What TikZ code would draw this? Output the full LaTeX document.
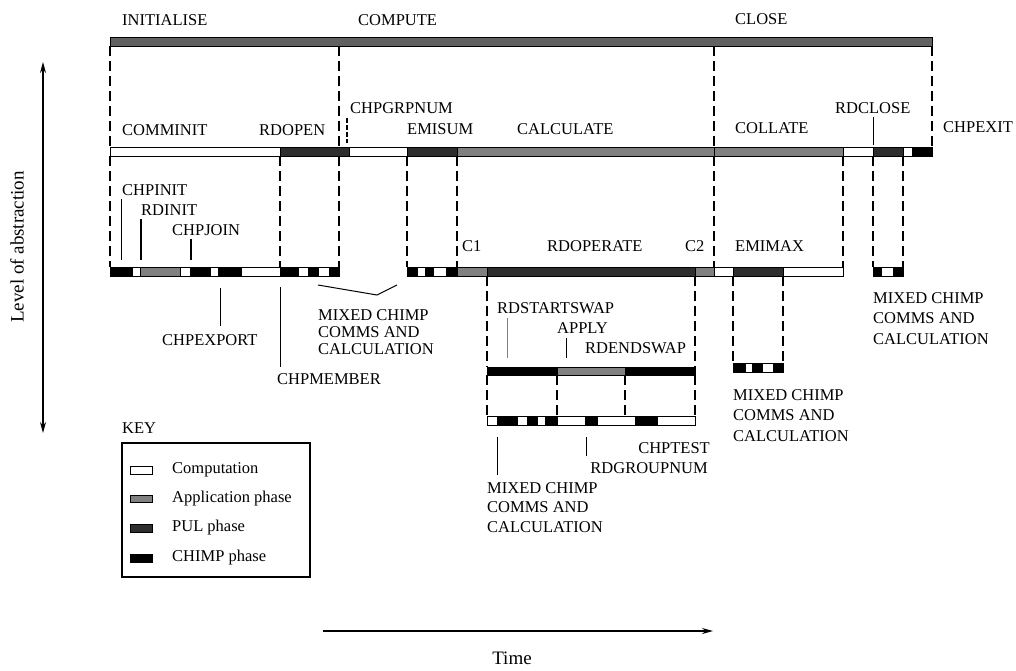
\documentclass[tikz,border=0pt]{standalone}
\usepackage{fontspec}
\setmainfont{Liberation Serif}
\usetikzlibrary{arrows.meta}
\tikzset{
  comp/.style={draw=black, line width=0.8pt, fill=white},
  appl/.style={draw=black, line width=0.8pt, fill=black!50},
  pul/.style={draw=black, line width=0.8pt, fill=black!82},
  chimp/.style={draw=black, line width=0.8pt, fill=black},
  dsh/.style={line width=2.6pt, dash pattern=on 10pt off 5pt},
  lbl/.style={font=\fontsize{16.5}{18}\selectfont, anchor=base west, inner sep=0pt},
  lblr/.style={font=\fontsize{16.5}{18}\selectfont, anchor=base east, inner sep=0pt},
  axlbl/.style={font=\fontsize{19}{21}\selectfont, inner sep=0pt},
  tick/.style={line width=1pt},
  keybox/.style={draw=black, line width=1.5pt},
  axis/.style={line width=1.3pt, arrows={Stealth[length=11pt,width=6pt]-Stealth[length=11pt,width=6pt]}},
}
\newcommand\barseg[5]{\path[#5] (#1,#3) rectangle (#2,#4);}
\begin{document}
\begin{tikzpicture}[x=1pt,y=-1pt]
\useasboundingbox (0,0) rectangle (1016,670);

% ---------- top level ----------
\barseg{110}{932}{37}{46}{appl, fill=black!62}
\node[lbl] (initialise) at (122,25) {INITIALISE};
\node[lbl] (compute) at (358,25) {COMPUTE};
\node[lbl] (close) at (735,24) {CLOSE};

\draw[dsh] (110,46) -- (110,147);
\draw[dsh] (339,46) -- (339,147);
\draw[dsh] (714,46) -- (714,147);
\draw[dsh] (932,46) -- (932,147);

% ---------- level 1 ----------
\barseg{110}{280}{147}{156}{comp}
\barseg{280}{349}{147}{156}{pul}
\barseg{349}{407}{147}{156}{comp}
\barseg{407}{457}{147}{156}{pul}
\barseg{457}{714}{147}{156}{appl}
\barseg{714}{843}{147}{156}{appl}
\barseg{843}{873}{147}{156}{comp}
\barseg{873}{903}{147}{156}{pul}
\barseg{903}{912}{147}{156}{comp}
\barseg{912}{932}{147}{156}{chimp}

\node[lbl] (comminit) at (122,135) {COMMINIT};
\node[lbl] (rdopen) at (259,135) {RDOPEN};
\node[lbl] (chpgrpnum) at (350,113) {CHPGRPNUM};
\node[lbl] (emisum) at (407,134) {EMISUM};
\node[lbl] (calculate) at (517,134) {CALCULATE};
\node[lbl] (collate) at (735,133) {COLLATE};
\node[lbl] (rdclose) at (835,113) {RDCLOSE};
\node[lbl] (chpexit) at (943,132) {CHPEXIT};

\coordinate (gA) at (347,118); \coordinate (gB) at (347,143);
\draw[line width=1.3pt, dash pattern=on 5pt off 2pt] (gA) -- (gB);
\coordinate (rcA) at (873,117); \coordinate (rcB) at (873,145);
\draw[tick] (rcA) -- (rcB);

\draw[dsh] (110,156) -- (110,267);
\draw[dsh] (280,156) -- (280,267);
\draw[dsh] (339,156) -- (339,267);
\draw[dsh] (407,156) -- (407,267);
\draw[dsh] (457,156) -- (457,267);
\draw[dsh] (714,156) -- (714,267);
\draw[dsh] (843,156) -- (843,267);
\draw[dsh] (873,156) -- (873,267);
\draw[dsh] (903,156) -- (903,267);

% ---------- level 2 ----------
% COMMINIT expansion
\barseg{110}{132}{267}{276}{chimp}
\barseg{132}{140}{267}{276}{comp}
\barseg{140}{180}{267}{276}{appl}
\barseg{180}{190}{267}{276}{comp}
\barseg{190}{210}{267}{276}{chimp}
\barseg{210}{218}{267}{276}{comp}
\barseg{218}{241}{267}{276}{chimp}
\barseg{241}{280}{267}{276}{comp}
% RDOPEN expansion
\barseg{280}{298}{267}{276}{chimp}
\barseg{298}{308}{267}{276}{comp}
\barseg{308}{318}{267}{276}{chimp}
\barseg{318}{329}{267}{276}{comp}
\barseg{329}{339}{267}{276}{chimp}
% EMISUM expansion
\barseg{407}{417}{267}{276}{chimp}
\barseg{417}{425}{267}{276}{comp}
\barseg{425}{433}{267}{276}{chimp}
\barseg{433}{446}{267}{276}{comp}
\barseg{446}{457}{267}{276}{chimp}
% CALCULATE expansion
\barseg{457}{487}{267}{276}{appl}
\barseg{487}{695}{267}{276}{pul}
\barseg{695}{714}{267}{276}{appl}
% COLLATE expansion
\barseg{714}{733}{267}{276}{comp}
\barseg{733}{783}{267}{276}{pul}
\barseg{783}{843}{267}{276}{comp}
% RDCLOSE expansion
\barseg{873}{881}{267}{276}{chimp}
\barseg{881}{893}{267}{276}{comp}
\barseg{893}{903}{267}{276}{chimp}

\node[lbl] (chpinit) at (122,195) {CHPINIT};
\node[lbl] (rdinit) at (141,215) {RDINIT};
\node[lbl] (chpjoin) at (172,235) {CHPJOIN};
\coordinate (ciA) at (121,199); \coordinate (ciB) at (121,260);
\coordinate (riA) at (141,219); \coordinate (riB) at (141,260);
\coordinate (cjA) at (191,239); \coordinate (cjB) at (191,260);
\draw[tick] (ciA) -- (ciB);
\draw[line width=1.8pt] (riA) -- (riB);
\draw[line width=1.3pt] (cjA) -- (cjB);

\node[lbl] (c1) at (462,251) {C1};
\node[lbl] (rdoperate) at (547,251) {RDOPERATE};
\node[lbl] (c2) at (685,251) {C2};
\node[lbl] (emimax) at (735,251) {EMIMAX};

\node[lbl] (chpexport) at (162,345) {CHPEXPORT};
\coordinate (ceA) at (220,288); \coordinate (ceB) at (220,326);
\draw[tick] (ceA) -- (ceB);
\node[lbl] (chpmember) at (277,384) {CHPMEMBER};
\coordinate (cmA) at (280,287); \coordinate (cmB) at (280,367);
\draw[tick] (cmA) -- (cmB);

\node[lbl, align=left, anchor=north west, font=\fontsize{16.5}{17}\selectfont] (mixA) at (318,309) {MIXED CHIMP\\COMMS AND\\CALCULATION};
\coordinate (mxL) at (318,285); \coordinate (mxM) at (377,295); \coordinate (mxR) at (397,285);
\draw[tick] (mxL) -- (mxM) -- (mxR);

\draw[dsh] (487,276) -- (487,367);
\draw[dsh] (695,276) -- (695,367);
\draw[dsh] (733,276) -- (733,363);
\draw[dsh] (783,276) -- (783,363);

% ---------- level 3 ----------
\barseg{487}{557}{367}{375}{chimp}
\barseg{557}{625}{367}{375}{appl}
\barseg{625}{695}{367}{375}{chimp}
% EMIMAX expansion
\barseg{733}{745}{363}{372}{chimp}
\barseg{745}{752}{363}{372}{comp}
\barseg{752}{762}{363}{372}{chimp}
\barseg{762}{773}{363}{372}{comp}
\barseg{773}{783}{363}{372}{chimp}

\node[lbl] (rdstartswap) at (497,313) {RDSTARTSWAP};
\node[lbl] (apply) at (557,333) {APPLY};
\node[lbl] (rdendswap) at (585,353) {RDENDSWAP};
\coordinate (rsA) at (507,318); \coordinate (rsB) at (507,358);
\draw[tick, gray] (rsA) -- (rsB);
\coordinate (apA) at (566,338); \coordinate (apB) at (566,358);
\draw[tick] (apA) -- (apB);

\draw[dsh] (487,375) -- (487,416);
\draw[dsh] (557,375) -- (557,416);
\draw[dsh] (625,375) -- (625,416);
\draw[dsh] (695,375) -- (695,416);

% ---------- level 4 ----------
\barseg{487}{497}{416}{425}{comp}
\barseg{497}{517}{416}{425}{chimp}
\barseg{517}{527}{416}{425}{comp}
\barseg{527}{537}{416}{425}{chimp}
\barseg{537}{545}{416}{425}{comp}
\barseg{545}{557}{416}{425}{chimp}
\barseg{557}{585}{416}{425}{comp}
\barseg{585}{597}{416}{425}{chimp}
\barseg{597}{635}{416}{425}{comp}
\barseg{635}{657}{416}{425}{chimp}
\barseg{657}{695}{416}{425}{comp}

\node[lblr] (chptest) at (710,453) {CHPTEST};
\node[lblr] (rdgroupnum) at (708,473) {RDGROUPNUM};
\coordinate (rgA) at (586,437); \coordinate (rgB) at (586,456);
\draw[tick] (rgA) -- (rgB);
\node[lbl, align=left, anchor=north west, font=\fontsize{16.5}{19.5}\selectfont] (mixC) at (487,482) {MIXED CHIMP\\COMMS AND\\CALCULATION};
\coordinate (mcA) at (497,437); \coordinate (mcB) at (497,475);
\draw[tick] (mcA) -- (mcB);

\node[lbl, align=left, anchor=north west, font=\fontsize{16.5}{20.5}\selectfont] (mixE) at (733,389) {MIXED CHIMP\\COMMS AND\\CALCULATION};
\node[lbl, align=left, anchor=north west, font=\fontsize{16.5}{20.5}\selectfont] (mixR) at (873,292) {MIXED CHIMP\\COMMS AND\\CALCULATION};

% ---------- key ----------
\node[lbl] (key) at (122,433) {KEY};
\draw[keybox] (122,443) rectangle (310,577);
\barseg{130}{152}{466}{474}{comp}
\barseg{130}{152}{495}{502}{appl}
\barseg{130}{152}{524}{532}{pul}
\barseg{130}{152}{554}{562}{chimp}
\node[lbl] (kcomp) at (172,473) {Computation};
\node[lbl] (kappl) at (172,502) {Application phase};
\node[lbl] (kpul) at (172,531) {PUL phase};
\node[lbl] (kchimp) at (172,561) {CHIMP phase};

% ---------- axes ----------
\coordinate (levT) at (43,62); \coordinate (levB) at (43,433);
\draw[axis] (levT) -- (levB);
\node[axlbl, rotate=90] (levlbl) at (17,247) {Level of abstraction};
\coordinate (timeL) at (323,631); \coordinate (timeR) at (713,631);
\draw[line width=1.3pt, -{Stealth[length=11pt,width=6pt]}] (timeL) -- (timeR);
\node[axlbl] (timelbl) at (512,658) {Time};
\end{tikzpicture}
\end{document}
